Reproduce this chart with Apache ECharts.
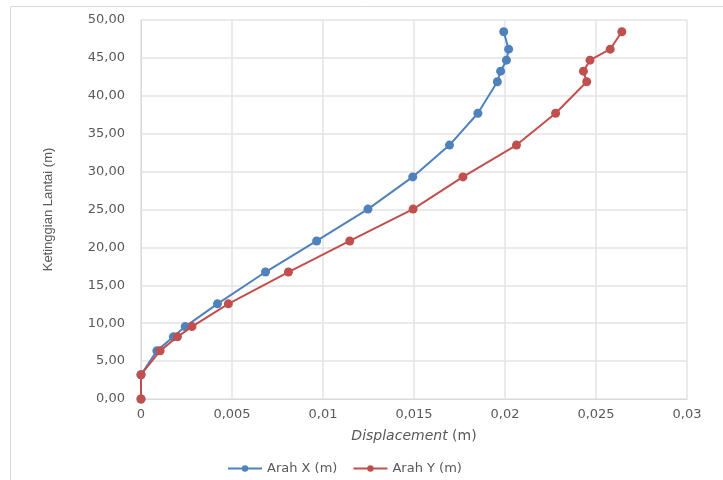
<!DOCTYPE html>
<html><head><meta charset="utf-8">
<script src="https://cdn.jsdelivr.net/npm/echarts@6/dist/echarts.min.js"></script>
<style>html,body{margin:0;padding:0;background:#fff}#c{width:723px;height:480px}</style>
</head><body><div id="c"></div>
<script>
var heights = [0, 3.2, 6.35, 8.2, 9.55, 12.55, 16.75, 20.85, 25.05, 29.3, 33.5, 37.7, 41.85, 43.25, 44.7, 46.15, 48.45];
var dispX = [0, 0, 0.00087, 0.00178, 0.00243, 0.00420, 0.00684, 0.00965, 0.01247, 0.01493, 0.01695, 0.01851, 0.01958, 0.01976, 0.02008, 0.0202, 0.01993];
var dispY = [0, 0, 0.00105, 0.0020, 0.0028, 0.0048, 0.0081, 0.01147, 0.01495, 0.01769, 0.02063, 0.02278, 0.02449, 0.02431, 0.02467, 0.02578, 0.02642];
var seriesNames = ['Arah X (m)', 'Arah Y (m)'];
var xTitle = 'Displacement';
var xUnit = ' (m)';
var yTitle = 'Ketinggian Lantai (m)';

function pairs(xs){ return xs.map(function(v,i){ return [v, heights[i]]; }); }
var chart = echarts.init(document.getElementById('c'));
var lbl = {color:'#595959', fontFamily:'DejaVu Sans', fontSize:13};
chart.setOption({
  animation:false,
  color:['#4F81BD','#C0504D'],
  graphic:[{type:'rect', shape:{x:10.5,y:6.5,width:800,height:600}, style:{fill:'none', stroke:'#d9d9d9', lineWidth:1}, z:-1}],
  grid:{left:141, right:36, top:20, bottom:81},
  legend:{top:457, left:222, itemWidth:34, itemHeight:8, itemGap:15,
    textStyle:{color:'#595959', fontFamily:'DejaVu Sans', fontSize:13},
    data:seriesNames},
  xAxis:{type:'value', min:0, max:0.03, interval:0.005,
    name:'{i|'+xTitle+'}'+xUnit, nameLocation:'middle', nameGap:30,
    nameTextStyle:{color:'#595959', fontFamily:'DejaVu Sans', fontSize:14, rich:{i:{fontStyle:'italic', color:'#595959', fontFamily:'DejaVu Sans', fontSize:14}}},
    axisLine:{show:true, lineStyle:{color:'#d9d9d9'}}, axisTick:{show:false},
    splitLine:{show:true, lineStyle:{color:'#e3e3e3', width:1.5}},
    axisLabel:Object.assign({margin:9, showMinLabel:true, hideOverlap:false, formatter:function(v){ return String(+(+v).toFixed(3)).replace('.',','); }}, lbl)},
  yAxis:{type:'value', min:0, max:50, interval:5,
    name:yTitle, nameLocation:'middle', nameGap:86, nameRotate:90,
    nameTextStyle:{color:'#595959', fontFamily:'Liberation Sans', fontSize:13},
    axisLine:{show:true, lineStyle:{color:'#d9d9d9'}}, axisTick:{show:false},
    splitLine:{show:true, lineStyle:{color:'#e3e3e3', width:1.5}},
    axisLabel:Object.assign({margin:16, showMinLabel:true, hideOverlap:false, formatter:function(v){ return (+v).toFixed(2).replace('.',','); }}, lbl)},
  series:[
    {name:seriesNames[0], type:'line', data:pairs(dispX), symbol:'circle', symbolSize:9, lineStyle:{width:2}, z:2},
    {name:seriesNames[1], type:'line', data:pairs(dispY), symbol:'circle', symbolSize:9, lineStyle:{width:2}, z:3}
  ]
});
</script></body></html>
